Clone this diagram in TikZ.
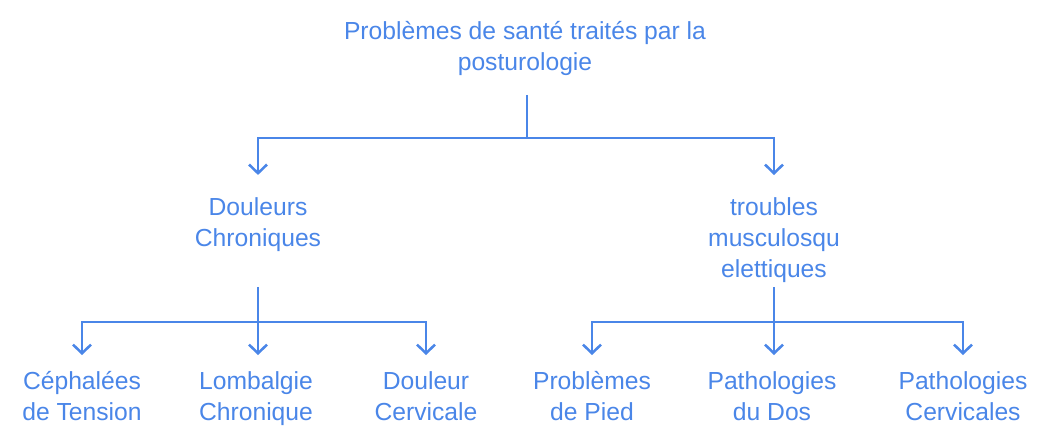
\documentclass[tikz,border=0pt]{standalone}
\usepackage{fontspec}
\setmainfont{Liberation Sans}
\usetikzlibrary{arrows.meta}
\definecolor{blu}{HTML}{4A86E8}
\begin{document}
\begin{tikzpicture}[x=0.75pt,y=-0.75pt,
 lbl/.style={text=blu, align=center, inner sep=0pt, font=\fontsize{18.5pt}{23.25pt}\selectfont,
   execute at begin node=\strut, execute at end node=\strut},
 conn/.style={draw=blu, line width=1.9pt},
 arr/.style={conn, -{Straight Barb[length=6.5pt,width=13.5pt,line width=1.9pt]}}]
\useasboundingbox (0,0) rectangle (1055,440);
\node[lbl] (root) at (525,50.8) {Problèmes de santé traités par la\\posturologie};
\node[lbl] (dc) at (258,226.8) {Douleurs\\Chroniques};
\node[lbl] (tm) at (774,241.8) {troubles\\musculosqu\\elettiques};
\node[lbl] (l1) at (82,400.5) {Céphalées\\de Tension};
\node[lbl] (l2) at (256,400.5) {Lombalgie\\Chronique};
\node[lbl] (l3) at (426,400.5) {Douleur\\Cervicale};
\node[lbl] (r1) at (592,400.5) {Problèmes\\de Pied};
\node[lbl] (r2) at (772,400.5) {Pathologies\\du Dos};
\node[lbl] (r3) at (963,400.5) {Pathologies\\Cervicales};
\coordinate (j0) at (527,138);
\coordinate (j1) at (258,322);
\coordinate (j2) at (774,322);
\draw[conn, shorten <=33.1pt] (j0 |- root.center) -- (j0);
\draw[arr, shorten >=38.9pt] (j0) -| (dc.center);
\draw[arr, shorten >=50.1pt] (j0) -| (tm.center);
\draw[conn, shorten <=45.1pt] (dc.center) -- (j1);
\draw[arr, shorten >=34.1pt] (j1) -| (l1.center);
\draw[arr, shorten >=34.1pt] (j1) -- (j1 |- l2.center);
\draw[arr, shorten >=34.1pt] (j1) -| (l3.center);
\draw[conn, shorten <=33.9pt] (tm.center) -- (j2);
\draw[arr, shorten >=34.1pt] (j2) -| (r1.center);
\draw[arr, shorten >=34.1pt] (j2) -- (j2 |- r2.center);
\draw[arr, shorten >=34.1pt] (j2) -| (r3.center);
\end{tikzpicture}
\end{document}
